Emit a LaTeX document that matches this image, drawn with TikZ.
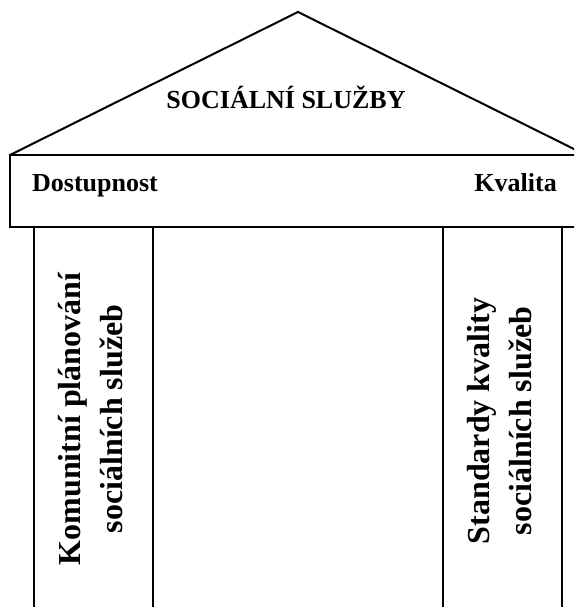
\documentclass[tikz,border=0pt]{standalone}
\usepackage{fontspec}
\setmainfont{Liberation Serif}
\begin{document}
\begin{tikzpicture}[x=1pt,y=1pt,
  part/.style={draw=black,line width=2pt,line join=miter},
  bigtxt/.style={font=\bfseries\fontsize{26}{31}\selectfont,inner sep=0pt},
  coltxt/.style={font=\bfseries\fontsize{32}{42}\selectfont,align=center,rotate=90,inner sep=0pt}]
\useasboundingbox (0,0) rectangle (574,607);
\clip (0,0) rectangle (574,607);
% roof
\coordinate (apex) at (298,595);
\coordinate (rl) at (10,452);
\coordinate (rr) at (586,452);
\draw[part] (rl) -- (apex) -- (rr);
% beam
\draw[part] (10,452) rectangle (586,380);
% columns
\draw[part] (34,380) rectangle (153,-20);
\draw[part] (443,380) rectangle (562,-20);
% texts
\node[bigtxt,anchor=base] (title) at (286,498) {SOCIÁLNÍ SLUŽBY};
\node[bigtxt,anchor=base west] (dost) at (32,415) {Dostupnost};
\node[bigtxt,anchor=base east] (kval) at (557,415) {Kvalita};
\node[coltxt] (kom) at (91,188) {Komunitní plánování\\sociálních služeb};
\node[coltxt] (std) at (500,186) {Standardy kvality\\sociálních služeb};
\end{tikzpicture}
\end{document}
